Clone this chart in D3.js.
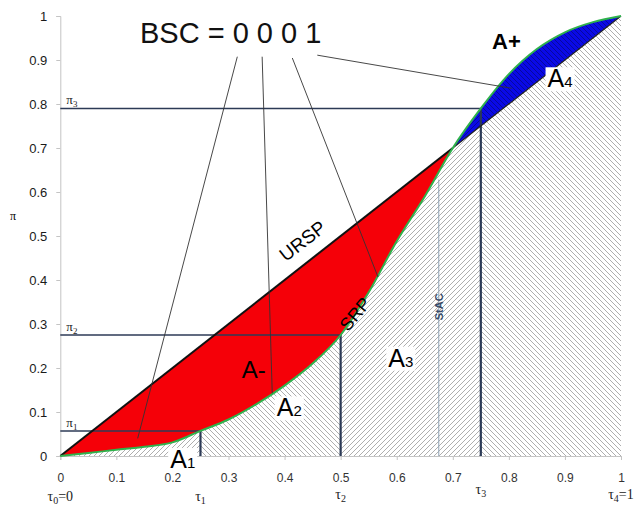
<!DOCTYPE html>
<html>
<head>
<meta charset="utf-8">
<script src="https://cdn.jsdelivr.net/npm/d3@7"></script>
<style>
  body { margin: 0; background: #fff; }
  svg text { font-family: "Liberation Sans", Arial, sans-serif; }
  .serif { font-family: "Liberation Serif", "Times New Roman", serif !important; }
</style>
</head>
<body>
<div id="chart"></div>
<script>
// SRP curve (tau, pi)
const srpX = [0, 0.05, 0.1, 0.15, 0.2, 0.25, 0.3, 0.35, 0.4, 0.45, 0.5, 0.55, 0.6, 0.65, 0.7, 0.75, 0.8, 0.85, 0.9, 0.95, 1];
const srpY = [0, 0.007, 0.014, 0.021, 0.031, 0.057, 0.083, 0.118, 0.16, 0.21, 0.275, 0.372, 0.488, 0.59, 0.7, 0.79, 0.868, 0.925, 0.963, 0.986, 1];
const crossAt = 0.7;

const xTicks = [0, 0.1, 0.2, 0.3, 0.4, 0.5, 0.6, 0.7, 0.8, 0.9, 1];
const yTicks = [0, 0.1, 0.2, 0.3, 0.4, 0.5, 0.6, 0.7, 0.8, 0.9, 1];
const tickLabels = ["0", "0.1", "0.2", "0.3", "0.4", "0.5", "0.6", "0.7", "0.8", "0.9", "1"];

const tauVals = [0, 0.25, 0.5, 0.75, 1];
const tauNames = [["0", "=0"], ["1", ""], ["2", ""], ["3", ""], ["4", "=1"]];
const tauLift = [0, 0, 2, 7, 2];
const piVals = [0.057, 0.275, 0.79];
const stacVal = 0.675;

// area labels: text, subscript, position (data units, left/baseline)
const areaLabels = [
  { t: "A", s: "1", x: 0.196, y: -0.027 },
  { t: "A", s: "2", x: 0.386, y: 0.09 },
  { t: "A", s: "3", x: 0.585, y: 0.203 },
  { t: "A", s: "4", x: 0.869, y: 0.838 }
];
// leader lines from "BSC = 0 0 0 1"
const leaders = [
  [0.3157, 0.9075, 0.138, 0.040],
  [0.360, 0.9075, 0.378, 0.1425],
  [0.4138, 0.9045, 0.5666, 0.4068],
  [0.4584, 0.911, 0.805, 0.8357]
];

const W = 636, H = 506;
const mLeft = 60.3, mRight = 621, mTop = 16, mBottom = 456;

const svg = d3.select("#chart").append("svg").attr("width", W).attr("height", H);
const x = d3.scaleLinear().domain([0, 1]).range([mLeft, mRight]);
const y = d3.scaleLinear().domain([0, 1]).range([mBottom, mTop]);

const pts = srpX.map((v, i) => ({ x: v, y: srpY[i] }));

const defs = svg.append("defs");
function hatch(id, d) {
  defs.append("pattern").attr("id", id).attr("patternUnits", "userSpaceOnUse")
    .attr("width", 5).attr("height", 5)
    .append("path").attr("d", d)
    .attr("stroke", "#000").attr("stroke-opacity", 0.4).attr("stroke-width", 0.8);
}
hatch("hatchF", "M-1,1 l2,-2 M0,5 l5,-5 M4,6 l2,-2");
hatch("hatchB", "M-1,4 l2,2 M0,0 l5,5 M4,-1 l2,2");

function clipRect(id, a, b) {
  defs.append("clipPath").attr("id", id).append("rect")
    .attr("x", x(a)).attr("y", 0).attr("width", x(b) - x(a)).attr("height", y(0));
}
clipRect("clipRed", 0, crossAt);
clipRect("clipBlue", crossAt, 1);
tauVals.slice(0, -1).forEach((t, i) => clipRect("clipT" + i, t, tauVals[i + 1]));

// red / blue gaps between URSP (diagonal) and SRP
const gapArea = d3.area().x(d => x(d.x)).y0(d => y(d.x)).y1(d => y(d.y)).curve(d3.curveMonotoneX);
svg.append("path").datum(pts).attr("d", gapArea).attr("fill", "#f50008").attr("clip-path", "url(#clipRed)");
svg.append("path").datum(pts).attr("d", gapArea).attr("fill", "#0a0ae6").attr("clip-path", "url(#clipBlue)");

// hatched areas under SRP
const underArea = d3.area().x(d => x(d.x)).y0(y(0)).y1(d => y(d.y)).curve(d3.curveMonotoneX);
tauVals.slice(0, -1).forEach((t, i) => {
  svg.append("path").datum(pts).attr("d", underArea)
    .attr("fill", i % 2 === 0 ? "url(#hatchF)" : "url(#hatchB)")
    .attr("clip-path", `url(#clipT${i})`);
});

// axes
const xAxis = svg.append("g").attr("transform", `translate(0,${y(0)})`)
  .call(d3.axisBottom(x).tickValues(xTicks).tickFormat((d, i) => tickLabels[i]).tickSize(4).tickPadding(13.5));
const yAxis = svg.append("g").attr("transform", `translate(${x(0)},0)`)
  .call(d3.axisLeft(y).tickValues(yTicks).tickFormat((d, i) => tickLabels[i]).tickSize(4).tickPadding(9));
[xAxis, yAxis].forEach(g => {
  g.select(".domain").attr("stroke", "#c4c4c4");
  g.selectAll(".tick line").attr("stroke", "#c4c4c4");
});
xAxis.selectAll("text").attr("font-size", 12).attr("fill", "#333");
yAxis.selectAll("text").attr("font-size", 13).attr("fill", "#1a1a1a");

svg.append("text").attr("class", "serif").attr("x", 13).attr("y", 220)
  .attr("font-size", 12).attr("text-anchor", "middle").text("π");

// StAC line
svg.append("line").attr("x1", x(stacVal)).attr("x2", x(stacVal))
  .attr("y1", y(0)).attr("y2", y(0.628))
  .attr("stroke", "#8fa3b5").attr("stroke-width", 1);

// pi / tau reference lines
const refCol = "#2c3a56";
piVals.forEach((p, i) => {
  svg.append("line").attr("x1", x(0)).attr("x2", x(tauVals[i + 1]))
    .attr("y1", y(p)).attr("y2", y(p)).attr("stroke", refCol).attr("stroke-width", 1.5);
  svg.append("line").attr("x1", x(tauVals[i + 1])).attr("x2", x(tauVals[i + 1]))
    .attr("y1", y(0)).attr("y2", y(p)).attr("stroke", refCol).attr("stroke-width", 2.2);
  const t = svg.append("text").attr("class", "serif").attr("x", x(0) + 6).attr("y", y(p) - 4)
    .attr("font-size", 13).attr("fill", "#222");
  t.append("tspan").text("π");
  t.append("tspan").attr("font-size", 9).attr("dy", 3).text(String(i + 1));
});

// URSP diagonal
svg.append("line").attr("x1", x(0)).attr("y1", y(0)).attr("x2", x(crossAt)).attr("y2", y(crossAt))
  .attr("stroke", "#111").attr("stroke-width", 2);
svg.append("line").attr("x1", x(crossAt)).attr("y1", y(crossAt)).attr("x2", x(1)).attr("y2", y(1))
  .attr("stroke", "#222").attr("stroke-width", 1.2);

// SRP curve
svg.append("path").datum(pts)
  .attr("d", d3.line().x(d => x(d.x)).y(d => y(d.y)).curve(d3.curveMonotoneX))
  .attr("fill", "none").attr("stroke", "#2fb24c").attr("stroke-width", 2);

// leader lines
svg.selectAll(".leader").data(leaders).enter().append("line")
  .attr("x1", d => x(d[0])).attr("y1", d => y(d[1]))
  .attr("x2", d => x(d[2])).attr("y2", d => y(d[3]))
  .attr("stroke", "#333").attr("stroke-width", 0.9);

// tau labels under axis
tauVals.forEach((t, i) => {
  const tx = svg.append("text").attr("class", "serif").attr("x", x(t)).attr("y", 501 - tauLift[i])
    .attr("font-size", 14).attr("fill", "#222").attr("text-anchor", "middle");
  tx.append("tspan").text("τ");
  tx.append("tspan").attr("font-size", 10).attr("dy", 3).text(tauNames[i][0]);
  if (tauNames[i][1]) tx.append("tspan").attr("dy", -3).text(tauNames[i][1]);
});

// area labels with white boxes
areaLabels.forEach(a => {
  const g = svg.append("g");
  const t = g.append("text").attr("x", x(a.x)).attr("y", y(a.y)).attr("font-size", 25).attr("fill", "#000");
  t.append("tspan").text(a.t);
  t.append("tspan").attr("font-size", 15).text(a.s);
  const bb = t.node().getBBox();
  g.insert("rect", "text").attr("x", bb.x - 2).attr("y", bb.y + 3)
    .attr("width", bb.width + 4).attr("height", bb.height - 4).attr("fill", "#fff");
});

svg.append("text").attr("x", x(0.3235)).attr("y", y(0.1766)).attr("font-size", 24).text("A-");
svg.append("text").attr("x", x(0.770)).attr("y", y(0.925)).attr("font-size", 22)
  .attr("font-weight", "bold").text("A+");

svg.append("text").attr("transform", `translate(${x(0.432)},${y(0.489)}) rotate(-38)`)
  .attr("text-anchor", "middle").attr("dy", "0.35em").attr("font-size", 19).text("URSP");
svg.append("text").attr("transform", `translate(${x(0.5256)},${y(0.3227)}) rotate(-50)`)
  .attr("text-anchor", "middle").attr("dy", "0.35em").attr("font-size", 18).text("SRP");
svg.append("text").attr("transform", `translate(${x(stacVal)},${y(0.339)}) rotate(-90)`)
  .attr("text-anchor", "middle").attr("dy", "0.35em").attr("font-size", 11)
  .attr("font-weight", "bold").attr("fill", "#3a4d6a").text("StAC");

svg.append("text").attr("x", 140).attr("y", 42.7).attr("font-size", 29).attr("fill", "#111")
  .text("BSC = 0 0 0 1");
</script>
</body>
</html>
